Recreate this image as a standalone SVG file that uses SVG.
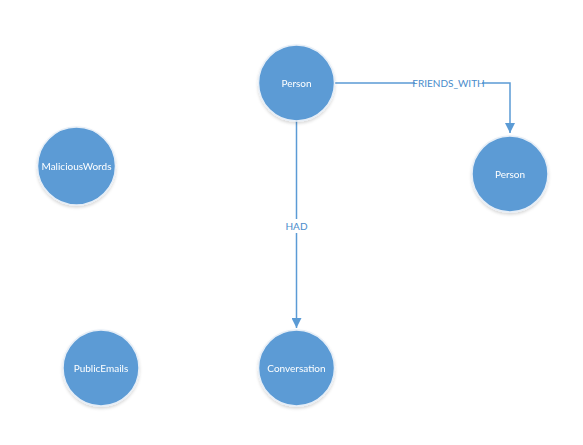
<svg xmlns="http://www.w3.org/2000/svg" width="583" height="445" viewBox="0 0 583 445">
<defs>
<style>
.node circle{fill:#5b9bd5;stroke:#e6eef7;stroke-width:1.5}
.node text{fill:#fff;font-family:Lato,"Open Sans","Liberation Sans",sans-serif;font-size:10px;text-anchor:middle}
.edge{fill:none;stroke:#5b9bd5;stroke-width:1.5}
.lbl{fill:#4a8ccb;font-family:Lato,"Open Sans","Liberation Sans",sans-serif;font-size:10px;text-anchor:middle}
.lblbg{fill:#fff}
</style>
<marker id="arr" viewBox="0 0 10 10" refX="10" refY="5" markerWidth="10" markerHeight="10" markerUnits="userSpaceOnUse" orient="auto">
<path d="M0,0 L10,5 L0,10 z" fill="#5b9bd5"/>
</marker>
<filter id="sh" x="-20%" y="-20%" width="140%" height="150%">
<feDropShadow dx="0" dy="2" stdDeviation="1.5" flood-color="#000" flood-opacity="0.15"/>
</filter>
</defs>
<rect width="583" height="445" fill="#fff"/>
<g id="connectors">
<path class="edge" d="M335,83 H510 V133" marker-end="url(#arr)"/>
<rect class="lblbg" x="415" y="76" width="67" height="14"/>
<text class="lbl" x="448.5" y="86.5">FRIENDS_WITH</text>
<path class="edge" d="M296.5,121 V328" marker-end="url(#arr)"/>
<rect class="lblbg" x="285" y="219" width="23" height="14"/>
<text class="lbl" x="296.5" y="229.5">HAD</text>
</g>
<g id="person1" class="node" filter="url(#sh)"><circle cx="296.5" cy="83" r="38"/><text x="296.5" y="86.5">Person</text></g>
<g id="person2" class="node" filter="url(#sh)"><circle cx="510" cy="174" r="38"/><text x="510" y="177.5">Person</text></g>
<g id="maliciouswords" class="node" filter="url(#sh)"><circle cx="76.5" cy="166" r="39"/><text x="76.5" y="169.5">MaliciousWords</text></g>
<g id="publicemails" class="node" filter="url(#sh)"><circle cx="101" cy="368" r="38"/><text x="101" y="371.5">PublicEmails</text></g>
<g id="conversation" class="node" filter="url(#sh)"><circle cx="296.5" cy="368" r="38"/><text x="296.5" y="371.5">Conversation</text></g>
</svg>
